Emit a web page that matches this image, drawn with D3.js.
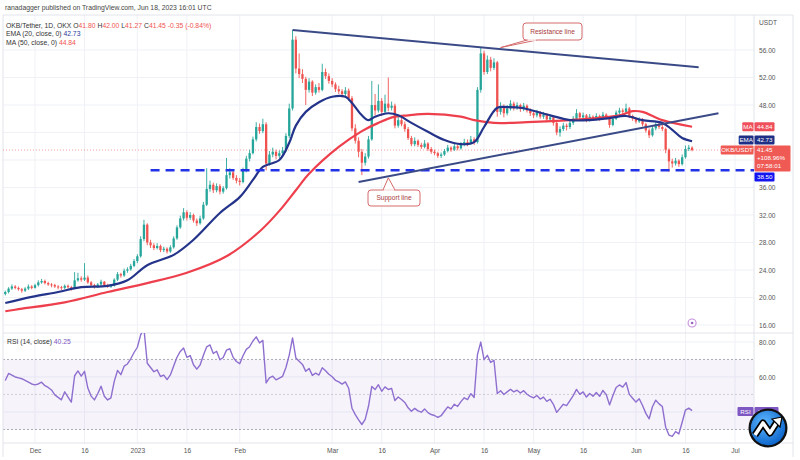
<!DOCTYPE html>
<html><head><meta charset="utf-8">
<script src="https://cdn.jsdelivr.net/npm/d3@7"></script>
<style>
html,body{margin:0;padding:0;background:#fff;}
svg{display:block;font-family:"Liberation Sans",Arial,sans-serif;}
</style></head><body>
<svg id="chart" width="800" height="460"></svg>
<script>
// ---------------- DATA ----------------
const startDate = "2022-11-22"; // first daily candle
const opens = [
20.5,20.8,21.3,21.6,21.4,21.2,21.0,21.3,21.6,
21.4,21.8,22.2,22.4,22.1,21.9,21.8,21.6,21.5,21.4,
21.7,21.5,21.3,22.5,22.8,22.6,22.9,22.2,21.8,21.6,
21.9,22.3,21.8,21.6,21.7,22.6,23.4,23.2,23.9,24.1,
24.6,25.3,26.0,28.5,30.6,28.0,27.6,27.2,27.5,26.9,
27.1,26.7,27.3,28.6,30.2,31.5,32.4,31.6,32.0,31.2,
30.8,31.5,33.5,35.8,36.4,35.6,36.2,35.4,35.9,37.8,
38.2,37.4,37.0,36.8,38.5,40.2,41.0,43.0,44.8,44.2,
45.2,39.5,40.8,41.2,40.6,41.0,41.4,43.5,47.5,57.5,
53.3,52.5,51.8,50.2,51.4,49.8,50.6,50.2,52.8,52.2,
51.5,51.0,50.3,50.0,49.6,50.1,49.0,44.6,42.8,41.2,
39.6,40.5,43.0,48.0,47.2,48.6,47.0,48.2,47.6,47.9,
45.0,45.8,45.2,44.5,43.2,42.3,42.8,42.2,41.9,42.4,
41.6,41.2,41.0,40.6,40.8,41.3,41.8,41.5,42.0,41.7,
42.2,42.6,42.4,43.0,42.6,50.2,55.5,52.8,54.6,53.4,
54.2,47.0,47.8,46.8,47.5,48.2,47.6,48.0,47.4,47.9,
47.2,46.8,46.5,46.9,46.3,46.6,45.9,46.2,45.4,44.0,
44.5,45.0,44.8,45.4,46.0,46.8,46.2,46.5,45.9,46.3,
46.0,46.4,46.0,46.6,46.2,45.1,46.0,46.9,47.2,47.0,
47.5,46.4,46.0,45.6,45.9,45.2,44.3,43.6,44.6,45.2,
44.8,44.5,41.5,39.8,39.5,39.9,39.4,40.4,41.6,41.80];
const highs = [
21.0,21.5,21.9,21.8,21.6,21.4,21.5,21.9,21.8,
22.0,22.5,22.7,22.6,22.3,22.1,22.0,21.8,21.7,21.9,
21.9,21.7,23.7,23.6,23.1,25.0,23.2,22.4,22.0,22.1,
22.6,22.4,22.0,21.9,22.8,23.7,23.6,24.2,24.4,24.9,
25.6,26.3,28.9,31.3,30.8,28.4,27.9,27.9,27.7,27.4,
27.3,27.6,28.9,30.5,31.9,33.0,32.7,32.4,32.2,31.5,
31.9,33.9,38.8,37.0,36.7,36.6,36.5,36.2,40.3,38.8,
38.5,37.8,37.4,38.9,40.6,41.5,43.4,45.5,45.3,46.0,
45.5,41.3,41.8,41.5,41.4,41.9,43.9,48.2,58.9,58.0,
55.5,53.2,52.1,51.9,51.6,51.0,51.2,54.0,53.3,52.6,
51.9,51.3,50.8,50.3,50.6,50.4,49.3,45.2,43.3,41.6,
41.0,43.5,51.5,49.6,51.0,49.0,49.5,52.0,48.5,48.2,
46.4,46.2,45.6,44.8,43.5,43.3,43.0,42.5,42.9,42.6,
41.9,41.5,41.2,41.1,41.6,42.2,42.0,42.4,42.2,42.6,
43.1,43.0,43.5,43.3,50.6,56.3,55.9,55.2,55.0,54.8,
54.4,48.4,48.1,48.0,48.7,48.5,48.4,48.2,48.3,48.1,
47.5,47.1,47.3,47.1,47.0,46.8,46.6,46.4,45.7,44.9,
45.4,45.3,45.8,46.4,47.4,47.0,46.9,46.7,46.7,46.5,
46.8,46.6,47.0,46.8,46.4,46.3,47.2,47.6,47.5,48.2,
47.7,46.6,46.2,46.2,46.1,45.4,44.6,44.9,45.5,45.4,
45.1,44.7,41.7,40.2,40.3,40.1,40.8,42.1,42.2,42.00];
const lows = [
20.3,20.6,21.1,21.2,21.0,20.7,20.8,21.1,21.2,
21.3,21.6,22.0,21.9,21.7,21.5,21.4,21.2,21.1,21.2,
21.3,21.0,21.2,22.3,22.3,22.4,22.0,21.6,21.3,21.4,
21.7,21.6,21.4,21.4,21.6,22.4,22.9,23.0,23.6,23.9,
24.4,25.0,25.8,28.2,27.6,27.2,26.9,27.0,26.6,26.6,
26.4,26.5,27.1,28.4,30.0,31.2,31.2,31.3,30.9,30.4,
30.6,31.3,33.3,35.4,35.2,35.3,35.0,35.1,35.7,37.3,
37.1,36.6,36.3,36.6,38.2,39.8,40.8,42.7,43.8,43.9,
38.5,39.2,40.4,40.1,40.3,40.7,41.2,43.2,47.2,52.6,
51.9,51.2,48.0,49.8,49.3,49.5,49.8,50.0,51.8,51.1,
50.6,49.9,49.6,49.1,49.3,48.6,44.2,42.4,40.4,37.8,
39.2,40.2,42.8,46.5,46.9,46.4,46.7,47.1,47.2,44.6,
44.7,44.9,44.1,42.9,42.0,42.0,41.9,41.6,41.7,41.3,
40.9,40.7,40.3,40.3,40.6,41.1,41.2,41.3,41.4,41.5,
42.0,42.0,42.2,42.2,42.4,49.8,52.4,52.5,52.9,53.1,
46.3,46.6,46.2,46.5,47.2,47.2,47.3,47.0,47.1,46.9,
46.4,46.1,46.2,46.0,46.0,45.5,45.6,45.0,43.6,43.4,
44.2,44.3,44.5,45.1,45.8,45.9,45.9,45.5,45.6,45.7,
45.8,45.7,45.8,45.9,44.7,44.9,45.8,46.6,46.7,46.8,
46.1,45.7,45.3,45.4,44.9,44.0,43.2,43.4,44.3,44.5,
44.2,41.0,38.3,38.9,39.2,39.0,39.2,40.2,41.3,41.27];
const closes = [
20.8,21.3,21.6,21.4,21.2,21.0,21.3,21.6,21.4,
21.8,22.2,22.4,22.1,21.9,21.8,21.6,21.5,21.4,21.7,
21.5,21.3,22.5,22.8,22.6,22.9,22.2,21.8,21.6,21.9,
22.3,21.8,21.6,21.7,22.6,23.4,23.2,23.9,24.1,24.6,
25.3,26.0,28.5,30.6,28.0,27.6,27.2,27.5,26.9,27.1,
26.7,27.3,28.6,30.2,31.5,32.4,31.6,32.0,31.2,30.8,
31.5,33.5,35.8,36.4,35.6,36.2,35.4,35.9,37.8,38.2,
37.4,37.0,36.8,38.5,40.2,41.0,43.0,44.8,44.2,45.2,
39.5,40.8,41.2,40.6,41.0,41.4,43.5,47.5,57.5,53.3,
52.5,51.8,50.2,51.4,49.8,50.6,50.2,52.8,52.2,51.5,
51.0,50.3,50.0,49.6,50.1,49.0,44.6,42.8,41.2,39.6,
40.5,43.0,48.0,47.2,48.6,47.0,48.2,47.6,47.9,45.0,
45.8,45.2,44.5,43.2,42.3,42.8,42.2,41.9,42.4,41.6,
41.2,41.0,40.6,40.8,41.3,41.8,41.5,42.0,41.7,42.2,
42.6,42.4,43.0,42.6,50.2,55.5,52.8,54.6,53.4,54.2,
47.0,47.8,46.8,47.5,48.2,47.6,48.0,47.4,47.9,47.2,
46.8,46.5,46.9,46.3,46.6,45.9,46.2,45.4,44.0,44.5,
45.0,44.8,45.4,46.0,46.8,46.2,46.5,45.9,46.3,46.0,
46.4,46.0,46.6,46.2,45.1,46.0,46.9,47.2,47.0,47.5,
46.4,46.0,45.6,45.9,45.2,44.3,43.6,44.6,45.2,44.8,
44.5,41.5,39.8,39.5,39.9,39.4,40.4,41.6,41.80,41.45];

// EMA(20)
const emaDates = ["2022-11-22","2022-11-30","2022-12-08","2022-12-15","2022-12-23","2022-12-29","2023-01-04","2023-01-12","2023-01-18","2023-01-26","2023-02-01","2023-02-05","2023-02-08","2023-02-13","2023-02-16","2023-02-18","2023-02-21","2023-02-25","2023-03-01","2023-03-05","2023-03-07","2023-03-10","2023-03-12","2023-03-14","2023-03-18","2023-03-21","2023-03-25","2023-03-30","2023-04-04","2023-04-09","2023-04-13","2023-04-16","2023-04-20","2023-04-23","2023-04-27","2023-05-06","2023-05-12","2023-05-18","2023-05-24","2023-05-29","2023-06-03","2023-06-09","2023-06-12","2023-06-15","2023-06-18"];
const emaVals = [19.2,20.1,20.8,21.5,21.7,22.5,24.7,26.2,28.4,32.3,34.6,37.1,39.0,40.0,42.5,45.0,47.0,48.4,49.2,49.2,48.3,46.5,45.8,46.3,46.8,46.5,45.4,44.1,42.9,42.3,42.6,44.8,47.6,47.7,47.6,46.5,45.8,45.8,46.1,46.4,45.8,45.4,44.4,43.2,42.73];
// MA(50)
const maDates = ["2022-11-22","2022-11-26","2022-12-10","2022-12-23","2023-01-04","2023-01-16","2023-01-28","2023-02-07","2023-02-13","2023-02-18","2023-02-22","2023-03-03","2023-03-10","2023-03-15","2023-03-20","2023-03-24","2023-03-30","2023-04-09","2023-04-13","2023-04-19","2023-04-29","2023-05-12","2023-05-27","2023-05-31","2023-06-03","2023-06-09","2023-06-18"];
const maVals = [18.0,18.3,19.3,20.8,22.1,23.6,26.0,29.6,32.6,35.6,38.0,41.9,44.2,45.4,46.3,46.5,46.7,46.3,45.8,45.4,45.5,45.8,46.5,47.1,47.0,45.8,44.84];

// RSI(14) of the first candles (before 14 closes exist)
const rsiLead = [58,62,61,60,59.5,59,58,57,56,55.5,56,57,55,54];

const priceTicks = [16,20,24,28,32,36,40,44,48,52,56];
const priceLabelTicks = [16,20,24,28,32,36,48,52,56]; // 40 and 44 are hidden under the tags
const rsiTicks = [40,60,80];
const rsiLabelTicks = [60,80]; // 40 hidden under the RSI tag
const rsiBands = [70,50,30];
const timeTickDates = ["2022-12-01","2022-12-16","2023-01-01","2023-01-16","2023-02-01","2023-03-01","2023-03-16","2023-04-01","2023-04-16","2023-05-01","2023-05-16","2023-06-01","2023-06-16","2023-07-01"];
const timeTickLabels = ["Dec","16","2023","16","Feb","Mar","16","Apr","16","May","16","Jun","16","Jul"];

const supportLevel = 38.50;
const supportLevelStart = "2023-01-05";
const resistanceLine = [["2023-02-17",58.9],["2023-06-20",53.5]];
const supportLine = [["2023-03-09",36.8],["2023-06-26",46.8]];
const resistanceAnchor = "2023-04-21";
const supportAnchor = "2023-03-18";
const eventMarker = ["2023-06-18",16.3];

const lastClose = 41.45, emaLast = 42.73, maLast = 44.84, rsiLast = 40.25;
const headerLine1 = "ranadagger published on TradingView.com, Jun 18, 2023 16:01 UTC";
const symbolText = "OKB/Tether, 1D, OKX";
const ohlcLabels = [["O","41.80"],["H","42.00"],["L","41.27"],["C","41.45"]];
const changeText = "-0.35 (-0.84%)";

// ---------------- DRAWING ----------------
const svg = d3.select("#chart");
const parse = d3.utcParse("%Y-%m-%d");
const t0 = parse(startDate);
const n = closes.length;
const dates = d3.range(n).map(i => d3.utcDay.offset(t0, i));

const X0 = 3, XA = 754, XR = 793;
const Y0 = 15, YS = 333, YB = 443;
const UP = "#26a69a", DN = "#ef5350";
const NAVY = "#24348a", RED = "#ee3f4d", TREND = "#3a4a86";

const x = d3.scaleUtc().domain([parse("2022-12-01"), parse("2023-07-01")]).range([35, 735]);
const y = d3.scaleLinear().domain([14.84, 61.09]).range([YS, Y0]);
const yr = d3.scaleLinear().domain([22.3, 85.1]).range([YB, YS]);

svg.append("rect").attr("width",800).attr("height",460).attr("fill","#fff");
const defs = svg.append("defs");
defs.append("clipPath").attr("id","cMain").append("rect").attr("x",X0).attr("y",Y0).attr("width",XA-X0).attr("height",YS-Y0);
defs.append("clipPath").attr("id","cRsi").append("rect").attr("x",X0).attr("y",YS).attr("width",XA-X0).attr("height",YB-YS);

// grid
const grid = svg.append("g").attr("stroke","#eff1f6").attr("stroke-width",1);
grid.selectAll("line.v").data(timeTickDates).join("line")
  .attr("x1",d=>x(parse(d))).attr("x2",d=>x(parse(d))).attr("y1",Y0).attr("y2",YB);
grid.selectAll("line.h").data(priceTicks).join("line")
  .attr("x1",X0).attr("x2",XA).attr("y1",d=>y(d)).attr("y2",d=>y(d));
grid.selectAll("line.r").data(rsiTicks).join("line")
  .attr("x1",X0).attr("x2",XA).attr("y1",d=>yr(d)).attr("y2",d=>yr(d));

// RSI band
svg.append("rect").attr("x",X0).attr("width",XA-X0).attr("y",yr(70)).attr("height",yr(30)-yr(70))
  .attr("fill","#7e57c2").attr("opacity",0.07);
svg.append("g").selectAll("line").data(rsiBands).join("line")
  .attr("x1",X0).attr("x2",XA).attr("y1",d=>yr(d)).attr("y2",d=>yr(d))
  .attr("stroke","#8a8d96").attr("stroke-width",1).attr("stroke-dasharray","2,2")
  .attr("opacity",d=>d===50?0.35:0.7);

// frame
const frame = svg.append("g").attr("stroke","#e1e4ea").attr("stroke-width",1).attr("fill","none");
frame.append("line").attr("x1",X0).attr("x2",XR).attr("y1",Y0).attr("y2",Y0);
frame.append("line").attr("x1",X0).attr("x2",XR).attr("y1",YS).attr("y2",YS);
frame.append("line").attr("x1",X0).attr("x2",XR).attr("y1",YB).attr("y2",YB);
frame.append("line").attr("x1",X0).attr("x2",X0).attr("y1",Y0).attr("y2",YB+14);
frame.append("line").attr("x1",XA).attr("x2",XA).attr("y1",Y0).attr("y2",YB);
frame.append("line").attr("x1",XR).attr("x2",XR).attr("y1",Y0).attr("y2",YB+14);

// main pane
const main = svg.append("g").attr("clip-path","url(#cMain)");

// last price dotted line
main.append("line").attr("x1",X0).attr("x2",XA).attr("y1",y(lastClose)).attr("y2",y(lastClose))
  .attr("stroke",DN).attr("stroke-width",1).attr("stroke-dasharray","1,2").attr("opacity",0.55);

// candles
const idx = d3.range(n);
const col = i => closes[i] >= opens[i] ? UP : DN;
main.append("g").selectAll("line").data(idx).join("line")
  .attr("x1",i=>x(dates[i])).attr("x2",i=>x(dates[i]))
  .attr("y1",i=>y(highs[i])).attr("y2",i=>y(lows[i]))
  .attr("stroke",col).attr("stroke-width",0.9);
const bw = 2.3;
main.append("g").selectAll("rect").data(idx).join("rect")
  .attr("x",i=>x(dates[i])-bw/2).attr("width",bw)
  .attr("y",i=>y(Math.max(opens[i],closes[i])))
  .attr("height",i=>Math.max(0.9, Math.abs(y(opens[i])-y(closes[i]))))
  .attr("fill",col);

// moving averages
const lineGen = d3.line().x(d=>x(parse(d[0]))).y(d=>y(d[1])).curve(d3.curveCatmullRom.alpha(0.5));
main.append("path").datum(d3.zip(maDates, maVals)).attr("d",lineGen)
  .attr("fill","none").attr("stroke",RED).attr("stroke-width",2.2).attr("stroke-linejoin","round");
main.append("path").datum(d3.zip(emaDates, emaVals)).attr("d",lineGen)
  .attr("fill","none").attr("stroke",NAVY).attr("stroke-width",2.2).attr("stroke-linejoin","round");

// horizontal support level (dashed)
main.append("line").attr("x1",x(parse(supportLevelStart))).attr("x2",XA)
  .attr("y1",y(supportLevel)).attr("y2",y(supportLevel))
  .attr("stroke","#2232e6").attr("stroke-width",2.6).attr("stroke-dasharray","9,6");

// trend lines
const tl = d3.line().x(d=>x(parse(d[0]))).y(d=>y(d[1]));
main.append("path").datum(resistanceLine).attr("d",tl).attr("stroke",TREND).attr("stroke-width",2).attr("fill","none");
main.append("path").datum(supportLine).attr("d",tl).attr("stroke",TREND).attr("stroke-width",2).attr("fill","none");

function lineAt(seg, dstr){
  const a = parse(seg[0][0]).getTime(), b = parse(seg[1][0]).getTime(), t = parse(dstr).getTime();
  return seg[0][1] + (seg[1][1]-seg[0][1])*(t-a)/(b-a);
}

// callouts
function callout(ax, ay, bx, by, bw_, bh, tipA, tipB, label){
  const g = svg.append("g");
  g.append("path")
    .attr("d",`M${tipA[0]},${tipA[1]} L${ax},${ay} L${tipB[0]},${tipB[1]}`)
    .attr("fill","#fff").attr("stroke","#d46a6a").attr("stroke-width",1);
  g.append("rect").attr("x",bx).attr("y",by).attr("width",bw_).attr("height",bh).attr("rx",3)
    .attr("fill","#fff").attr("stroke","#d46a6a").attr("stroke-width",1);
  g.append("line").attr("x1",tipA[0]+0.8).attr("x2",tipB[0]-0.8).attr("y1",tipA[1]).attr("y2",tipB[1])
    .attr("stroke","#fff").attr("stroke-width",1.4);
  g.append("text").attr("x",bx+bw_/2).attr("y",by+bh/2+2.2).attr("text-anchor","middle")
    .attr("font-size",6.6).attr("fill","#a83a3a").text(label);
}
{
  const ax = x(parse(resistanceAnchor)), ay = y(lineAt(resistanceLine, resistanceAnchor)) - 1.5;
  callout(ax, ay, 523, 23, 59, 17, [527,40], [537,40], "Resistance line");
}
{
  const ax = x(parse(supportAnchor)), ay = y(lineAt(supportLine, supportAnchor)) + 1.5;
  callout(ax, ay, 368, 190, 52, 16, [383,190], [395,190], "Support line");
}

// event marker
svg.append("circle").attr("cx",x(parse(eventMarker[0]))).attr("cy",y(eventMarker[1])).attr("r",4)
  .attr("fill","#fff").attr("stroke","#c48fdc").attr("stroke-width",1.1);
svg.append("circle").attr("cx",x(parse(eventMarker[0]))).attr("cy",y(eventMarker[1])).attr("r",1.3)
  .attr("fill","#9b65c0");

// RSI (Wilder), continuing from the values read for the first candles
const rsi = rsiLead.slice();
{
  let absSum = 0;
  for (let i = 1; i < rsiLead.length; i++) absSum += Math.abs(closes[i]-closes[i-1]);
  const avgAbs = absSum/(rsiLead.length-1);
  let ag = avgAbs*rsiLead[rsiLead.length-1]/100, al = avgAbs - ag;
  for (let i = rsiLead.length; i < n; i++){
    const ch = closes[i]-closes[i-1];
    ag = (ag*13 + Math.max(ch,0))/14;
    al = (al*13 + Math.max(-ch,0))/14;
    rsi.push(al === 0 ? 100 : 100 - 100/(1+ag/al));
  }
}
svg.append("g").attr("clip-path","url(#cRsi)").append("path").datum(idx)
  .attr("d", d3.line().x(i=>x(dates[i])).y(i=>yr(rsi[i])))
  .attr("fill","none").attr("stroke","#8e6fcf").attr("stroke-width",1.4).attr("stroke-linejoin","round");

// axes
const fmt = d3.format(".2f");
const pAxis = svg.append("g").attr("transform",`translate(${XA},0)`)
  .call(d3.axisRight(y).tickValues(priceLabelTicks).tickFormat(fmt).tickSize(0).tickPadding(5));
const rAxis = svg.append("g").attr("transform",`translate(${XA},0)`)
  .call(d3.axisRight(yr).tickValues(rsiLabelTicks).tickFormat(fmt).tickSize(0).tickPadding(5));
const tAxis = svg.append("g").attr("transform",`translate(0,${YB})`)
  .call(d3.axisBottom(x).tickValues(timeTickDates.map(parse)).tickFormat((d,i)=>timeTickLabels[i]).tickSize(0).tickPadding(5));
[pAxis,rAxis,tAxis].forEach(a=>{
  a.select(".domain").remove();
  a.selectAll("text").attr("font-size",6.6).attr("fill","#555").attr("font-family","Liberation Sans, Arial, sans-serif");
});
svg.append("text").attr("x",XA+5).attr("y",25).attr("font-size",6.6).attr("fill","#555").text("USDT");

// price-scale tags
const tags = [
  {v:maLast, h:9, color:"#ef4f5a", name:"MA", lines:[fmt(maLast)], w:20},
  {v:emaLast, h:9, color:"#1f2f86", name:"EMA", lines:[fmt(emaLast)], w:20},
  {v:lastClose, h:26, color:"#ef5a55", name:"OKB/USDT", lines:[fmt(lastClose),"+108.96%","07:58:01"], w:36, fixed:true},
  {v:supportLevel, h:9, color:"#1414f0", name:null, lines:[fmt(supportLevel)], w:20}
];
tags.forEach(t=>{ t.top = y(t.v) - 4.5; });
const fi = tags.findIndex(t=>t.fixed);
for (let i = fi-1; i >= 0; i--){ const lim = tags[i+1].top - 1; if (tags[i].top + tags[i].h > lim) tags[i].top = lim - tags[i].h; }
for (let i = fi+1; i < tags.length; i++){ const lim = tags[i-1].top + tags[i-1].h + 1; if (tags[i].top < lim) tags[i].top = lim; }
const tagG = svg.append("g").attr("font-size",6.2).attr("fill","#fff");
tags.forEach(t=>{
  tagG.append("rect").attr("x",XA+0.5).attr("y",t.top).attr("width",t.w).attr("height",t.h).attr("rx",1).attr("fill",t.color);
  t.lines.forEach((s,k)=>{
    tagG.append("text").attr("x",XA+3).attr("y",t.top+6.8+k*8).text(s);
  });
  if (t.name){
    const nw = t.name.length*3.6 + 4;
    tagG.append("rect").attr("x",XA-0.5-nw).attr("y",t.top).attr("width",nw).attr("height",9).attr("rx",1).attr("fill",t.color);
    tagG.append("text").attr("x",XA-0.5-nw/2).attr("y",t.top+6.8).attr("text-anchor","middle").text(t.name);
  }
});
// RSI tag
{
  const top = yr(rsiLast) - 4.5;
  tagG.append("rect").attr("x",XA+0.5).attr("y",top).attr("width",24).attr("height",9).attr("rx",1).attr("fill","#7e57c2");
  tagG.append("text").attr("x",XA+3).attr("y",top+6.8).text(fmt(rsiLast));
  tagG.append("rect").attr("x",XA-16.5).attr("y",top).attr("width",16).attr("height",9).attr("rx",1).attr("fill","#7e57c2");
  tagG.append("text").attr("x",XA-8.5).attr("y",top+6.8).attr("text-anchor","middle").text("RSI");
}

// header texts
const hdr = svg.append("g").attr("font-size",6.8).attr("fill","#333");
hdr.append("text").attr("x",5).attr("y",9.5).attr("fill","#444").text(headerLine1);
{
  const t2 = hdr.append("text").attr("x",6).attr("y",27.5);
  t2.append("tspan").text(symbolText + "  ");
  ohlcLabels.forEach(([k,v])=>{
    t2.append("tspan").text(k);
    t2.append("tspan").attr("fill",DN).text(v + " ");
  });
  t2.append("tspan").attr("fill",DN).text(changeText);
  const t3 = hdr.append("text").attr("x",6).attr("y",36);
  t3.append("tspan").text("EMA (20, close, 0) ");
  t3.append("tspan").attr("fill","#2a3a9a").text(fmt(emaLast));
  const t4 = hdr.append("text").attr("x",6).attr("y",44.5);
  t4.append("tspan").text("MA (50, close, 0) ");
  t4.append("tspan").attr("fill",DN).text(fmt(maLast));
  const t5 = hdr.append("text").attr("x",7).attr("y",344);
  t5.append("tspan").text("RSI (14, close) ");
  t5.append("tspan").attr("fill","#7e57c2").text(fmt(rsiLast));
}

// logo (bottom-right badge)
{
  const cx = 768, cy = 428;
  const grad = defs.append("radialGradient").attr("id","lg").attr("cx","40%").attr("cy","35%").attr("r","70%");
  grad.append("stop").attr("offset","0%").attr("stop-color","#5fb8ff");
  grad.append("stop").attr("offset","100%").attr("stop-color","#0a63c9");
  const g = svg.append("g");
  g.append("circle").attr("cx",cx).attr("cy",cy).attr("r",19.5).attr("fill","#111");
  g.append("circle").attr("cx",cx).attr("cy",cy).attr("r",17.2).attr("fill","url(#lg)");
  const zig = `M${cx-13},${cy+7} L${cx-5},${cy-5} L${cx+2},${cy+5} L${cx+9},${cy-6}`;
  g.append("path").attr("d",zig).attr("fill","none").attr("stroke","#000").attr("stroke-width",7).attr("stroke-linejoin","round");
  g.append("path").attr("d",zig).attr("fill","none").attr("stroke","#fff").attr("stroke-width",3.6).attr("stroke-linejoin","round");
  g.append("path").attr("d",`M${cx+14},${cy-11} L${cx+4},${cy-9} L${cx+12},${cy-1} Z`).attr("fill","#fff").attr("stroke","#000").attr("stroke-width",1.2);
}
</script>
</body></html>
